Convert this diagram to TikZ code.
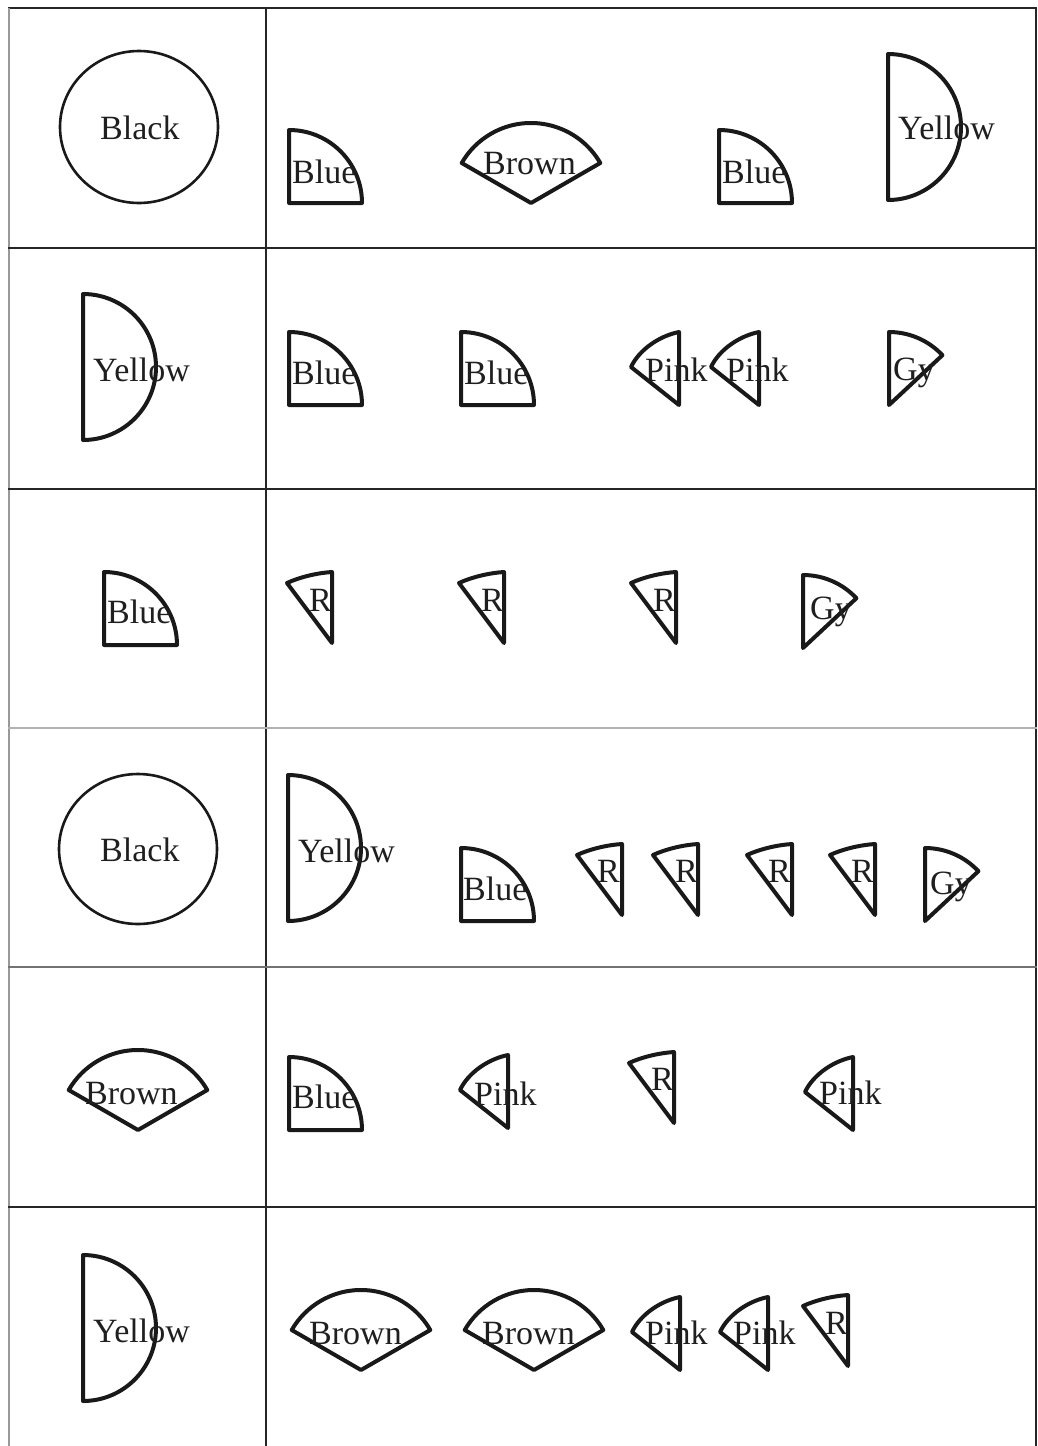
\documentclass[tikz,border=0pt]{standalone}
\usepackage{fontspec}
\setmainfont{Liberation Serif}
\begin{document}
\begin{tikzpicture}[x=1pt,y=1pt,
  shp/.style={draw=black!90, line width=4pt, line join=round},
  lbl/.style={font=\fontsize{34}{40}\selectfont, text=black!88, inner sep=0pt, anchor=base west},
  tline/.style={line width=2.2pt, draw=black!85},
  gline/.style={line width=2.6pt, draw=black!30},
  quarterpic/.pic={\draw[shp] (0,0) -- (73,0) arc[start angle=0,end angle=90,radius=73] -- cycle;},
  halfpic/.pic={\draw[shp] (0,-73) arc[start angle=-90,end angle=90,radius=73] -- cycle;},
  brownpic/.pic={\draw[shp] (0,0) -- (30:80) arc[start angle=30,end angle=150,radius=80] -- cycle;},
  pinkpic/.pic={\draw[shp] (0,0) -- (0,73) .. controls (-20,69) and (-40,55) .. (-48,38) -- cycle;},
  redpic/.pic={\draw[shp] (0,0) -- (0,71) .. controls (-15,70) and (-32,66) .. (-45,60) -- cycle;},
  graypic/.pic={\draw[shp] (0,0) -- (0,73) arc[start angle=90,end angle=43,radius=73] -- cycle;}
]
\useasboundingbox (0,0) rectangle (1037,-1446);
\fill[white] (0,0) rectangle (1037,-1446);
% table
\draw[tline] (8,-8) -- (1037,-8);
\draw[gline, line width=2.2pt, draw=black!40] (9,-8) -- (9,-1446);
\draw[tline] (1036,-8) -- (1036,-1446);
\draw[tline] (266,-8) -- (266,-1446);
\draw[tline] (8,-248) -- (1037,-248);
\draw[tline] (8,-489) -- (1037,-489);
\draw[gline] (8,-728) -- (1037,-728);
\draw[tline, draw=black!55] (8,-967) -- (1037,-967);
\draw[tline] (8,-1207) -- (1037,-1207);

% Row 1
\draw[shp, line width=2.6pt] (139,-127) ellipse [x radius=79, y radius=76];
\pic at (289,-203) {quarterpic};
\pic at (531,-203) {brownpic};
\pic at (719,-203) {quarterpic};
\pic at (888,-127) {halfpic};
\node[lbl] (r1a) at (100,-139) {Black};
\node[lbl] (r1b) at (292,-183) {Blue};
\node[lbl] (r1c) at (483,-174) {Brown};
\node[lbl] (r1d) at (722,-183) {Blue};
\node[lbl] (r1e) at (898,-139) {Yellow};

% Row 2
\pic at (83,-367) {halfpic};
\pic at (289,-405) {quarterpic};
\pic at (461,-405) {quarterpic};
\pic at (679,-405) {pinkpic};
\pic at (759,-405) {pinkpic};
\pic at (889,-405) {graypic};
\node[lbl] (r2a) at (93,-381) {Yellow};
\node[lbl] (r2b) at (292,-384) {Blue};
\node[lbl] (r2c) at (464,-384) {Blue};
\node[lbl] (r2d) at (645,-381) {Pink};
\node[lbl] (r2e) at (726,-381) {Pink};
\node[lbl] (r2f) at (893,-380) {Gy};

% Row 3
\pic at (104,-645) {quarterpic};
\pic at (332,-643) {redpic};
\pic at (504,-643) {redpic};
\pic at (676,-643) {redpic};
\pic at (803,-648) {graypic};
\node[lbl] (r3a) at (107,-623) {Blue};
\node[lbl] (r3b) at (309,-611) {R};
\node[lbl] (r3c) at (481,-611) {R};
\node[lbl] (r3d) at (653,-611) {R};
\node[lbl] (r3e) at (810,-619) {Gy};

% Row 4
\draw[shp, line width=2.6pt] (138,-849) ellipse [x radius=79, y radius=75];
\pic at (288,-848) {halfpic};
\pic at (461,-921) {quarterpic};
\pic at (622,-915) {redpic};
\pic at (698,-915) {redpic};
\pic at (792,-915) {redpic};
\pic at (875,-915) {redpic};
\pic at (925,-921) {graypic};
\node[lbl] (r4a) at (100,-861) {Black};
\node[lbl] (r4b) at (298,-862) {Yellow};
\node[lbl] (r4c) at (463,-900) {Blue};
\node[lbl] (r4d) at (597,-882) {R};
\node[lbl] (r4e) at (675,-882) {R};
\node[lbl] (r4f) at (768,-882) {R};
\node[lbl] (r4g) at (851,-882) {R};
\node[lbl] (r4h) at (930,-894) {Gy};

% Row 5
\pic at (138,-1130) {brownpic};
\pic at (289,-1130) {quarterpic};
\pic at (508,-1128) {pinkpic};
\pic at (674,-1123) {redpic};
\pic at (853,-1130) {pinkpic};
\node[lbl] (r5a) at (85,-1104) {Brown};
\node[lbl] (r5b) at (292,-1108) {Blue};
\node[lbl] (r5c) at (474,-1105) {Pink};
\node[lbl] (r5d) at (651,-1090) {R};
\node[lbl] (r5e) at (819,-1104) {Pink};

% Row 6
\pic at (83,-1328) {halfpic};
\pic at (361,-1370) {brownpic};
\pic at (534,-1370) {brownpic};
\pic at (680,-1370) {pinkpic};
\pic at (768,-1370) {pinkpic};
\pic at (848,-1366) {redpic};
\node[lbl] (r6a) at (93,-1342) {Yellow};
\node[lbl] (r6b) at (309,-1344) {Brown};
\node[lbl] (r6c) at (482,-1344) {Brown};
\node[lbl] (r6d) at (645,-1344) {Pink};
\node[lbl] (r6e) at (733,-1344) {Pink};
\node[lbl] (r6f) at (825,-1334) {R};
\end{tikzpicture}
\end{document}
